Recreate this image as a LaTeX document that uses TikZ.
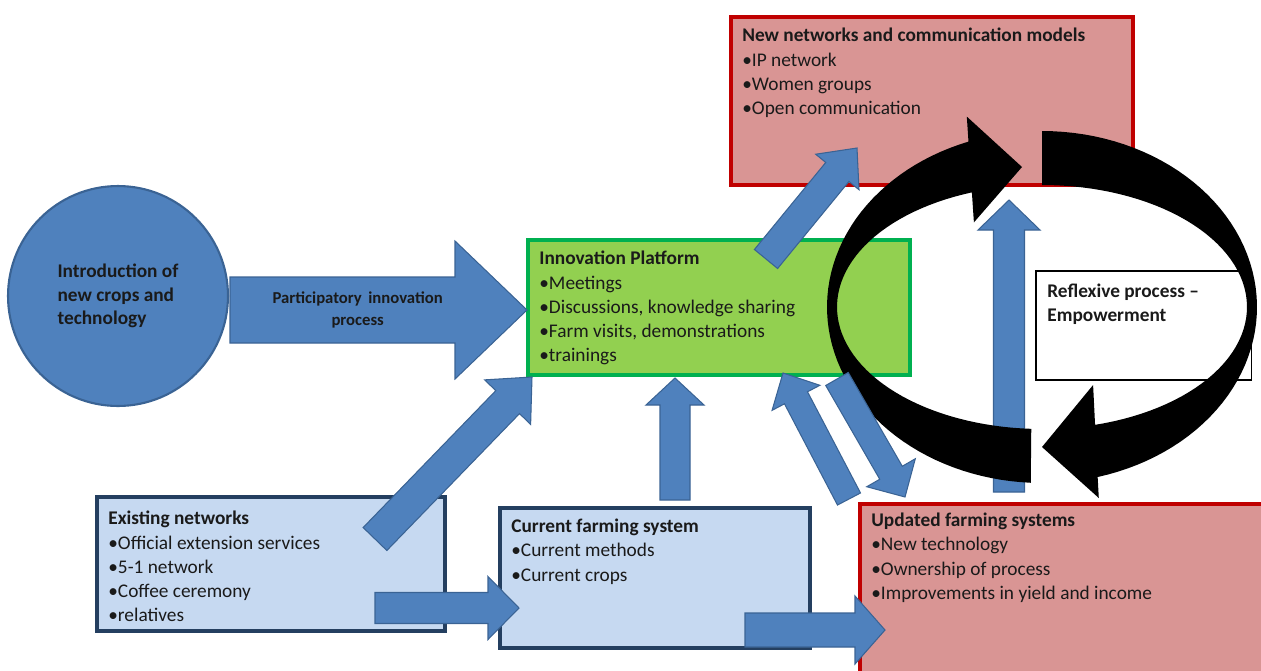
\documentclass[tikz,border=0pt]{standalone}
\usepackage{fontspec}
\setmainfont{Carlito}
\usetikzlibrary{calc}
\definecolor{ink}{HTML}{1A1A1A}
\definecolor{steel}{HTML}{4F81BD}
\definecolor{steeld}{HTML}{3A6394}
\definecolor{skyl}{HTML}{C6D9F1}
\definecolor{navy}{HTML}{243F60}
\definecolor{ipgreen}{HTML}{00B050}
\definecolor{ipgreenl}{HTML}{92D050}
\definecolor{netred}{HTML}{C00000}
\definecolor{netredl}{HTML}{D99594}

% block arrow: tail, tip, half shaft width, half head width, head length
\newcommand{\blockarrow}[5]{%
  \coordinate (ba-h) at ($(#2)!#5!(#1)$);
  \filldraw[blockarr] ($(#1)!#3!90:(#2)$) -- ($(ba-h)!#3!90:(#2)$) -- ($(ba-h)!#4!90:(#2)$) -- (#2)
    -- ($(ba-h)!#4!-90:(#2)$) -- ($(ba-h)!#3!-90:(#2)$) -- ($(#1)!#3!-90:(#2)$) -- cycle;}

\begin{document}
\begin{tikzpicture}[x=0.02cm, y=-0.02cm,
  txt/.style={font=\fontsize{11}{13.7}\selectfont, text=ink, align=left, anchor=north west, inner xsep=.22cm, inner ysep=.22cm},
  box/.style={draw, line width=2.4pt, outer sep=0pt, inner sep=0pt, anchor=north west},
  redbox/.style={box, fill=netredl, draw=netred},
  grnbox/.style={box, fill=ipgreenl, draw=ipgreen},
  skybox/.style={box, fill=skyl, draw=navy},
  blockarr/.style={fill=steel, draw=steeld, line width=0.6pt, line join=miter},
  cyc/.style={fill=black}
]
\useasboundingbox (0,0) rectangle (1261,670);

% ---------------- boxes
\node[circle, minimum size=4.4cm, fill=steel, draw=steeld, line width=1.2pt, align=left, text=ink,
      font=\bfseries\fontsize{11}{13.2}\selectfont] (intro) at (118,296) {Introduction of\\new crops and\\technology};
\node[redbox, minimum width=8.04cm, minimum height=3.36cm,
      label={[txt]north west:{\textbf{New networks and communication models}\\•IP network\\•Women groups\\•Open communication}}] (netw) at (731,17) {};
\node[grnbox, minimum width=7.64cm, minimum height=2.7cm,
      label={[txt]north west:{\textbf{Innovation Platform}\\•Meetings\\•Discussions, knowledge sharing\\•Farm visits, demonstrations\\•trainings}}] (ip) at (528,240) {};
\node[skybox, minimum width=6.96cm, minimum height=2.68cm,
      label={[txt, inner ysep=.28cm]north west:{\textbf{Existing networks}\\•Official extension services\\•5-1 network\\•Coffee ceremony\\•relatives}}] (exnet) at (97,497) {};
\node[skybox, minimum width=6.2cm, minimum height=2.8cm,
      label={[txt]north west:{\textbf{Current farming system}\\•Current methods\\•Current crops}}] (curfs) at (500,508) {};
% runs off the lower right corner
\node[redbox, minimum width=8.4cm, minimum height=4.2cm,
      label={[txt, inner ysep=.18cm]north west:{\textbf{Updated farming systems}\\•New technology\\•Ownership of process\\•Improvements in yield and income}}] (updfs) at (860,504) {};
\node[draw=black, line width=.6pt, fill=white, outer sep=0pt, anchor=north west, minimum width=4.32cm, minimum height=2.18cm,
      label={[txt, inner ysep=.26cm, font=\bfseries\fontsize{11}{13.2}\selectfont]north west:{Reflexive process –\\Empowerment}}] (refl) at (1036,271) {};

% ---------------- arrow ends
\coordinate (part-s) at (230,310);  \coordinate (part-e) at (527,310);
\coordinate (ex-ip-s) at (375,539); \coordinate (ex-ip-e) at (532,377);
\coordinate (ex-cf-s) at (375,608); \coordinate (ex-cf-e) at (519,608);
\coordinate (cf-up-s) at (745,630); \coordinate (cf-up-e) at (885,630);
\coordinate (cf-ip-s) at (675,500); \coordinate (cf-ip-e) at (675,378);
\coordinate (ip-nw-s) at (766,259); \coordinate (ip-nw-e) at (857,148);
\coordinate (up-ip-s) at (849,499); \coordinate (up-ip-e) at (783,373);
\coordinate (ip-up-s) at (837,379); \coordinate (ip-up-e) at (905,497);
\coordinate (up-nw-s) at (1009,492); \coordinate (up-nw-e) at (1009,200);

% ---------------- blue arrows
\blockarrow{part-s}{part-e}{.66cm}{1.38cm}{1.44cm}
\node[font=\bfseries\fontsize{9.5}{13}\selectfont, align=center, text=ink] (partlab) at ($(part-s)!.43!(part-e)$) {Participatory\, innovation\\process};
\blockarrow{ex-ip-s}{ex-ip-e}{.33cm}{.64cm}{.7cm}
\blockarrow{ex-cf-s}{ex-cf-e}{.31cm}{.63cm}{.62cm}
\blockarrow{cf-up-s}{cf-up-e}{.34cm}{.68cm}{.6cm}
\blockarrow{cf-ip-s}{cf-ip-e}{.3cm}{.58cm}{.54cm}
\blockarrow{ip-nw-s}{ip-nw-e}{.3cm}{.56cm}{.62cm}
\blockarrow{up-nw-s}{up-nw-e}{.31cm}{.62cm}{.6cm}

% ---------------- reflexive cycle (two black arcs)
\fill[cyc] plot[domain=93:250, samples=60] ({1042+215*cos(\x)},{307+176*sin(\x)})
  -- (966.8,116.6) -- (1022,167) -- (973.9,222.4)
  -- plot[domain=250:93, samples=60] ({1042+205*cos(\x)},{307+122*sin(\x)}) -- cycle;
\fill[cyc] plot[domain=270:435, samples=60] ({1042+215*cos(\x)},{307+176*sin(\x)})
  -- (1098.8,498) -- (1042,447) -- (1093.1,385)
  -- plot[domain=435:270, samples=60] ({1042+205*cos(\x)},{307+122*sin(\x)}) -- cycle;

% ---------------- feedback pair
\blockarrow{up-ip-s}{up-ip-e}{.26cm}{.54cm}{.56cm}
\blockarrow{ip-up-s}{ip-up-e}{.26cm}{.56cm}{.56cm}
\end{tikzpicture}
\end{document}
